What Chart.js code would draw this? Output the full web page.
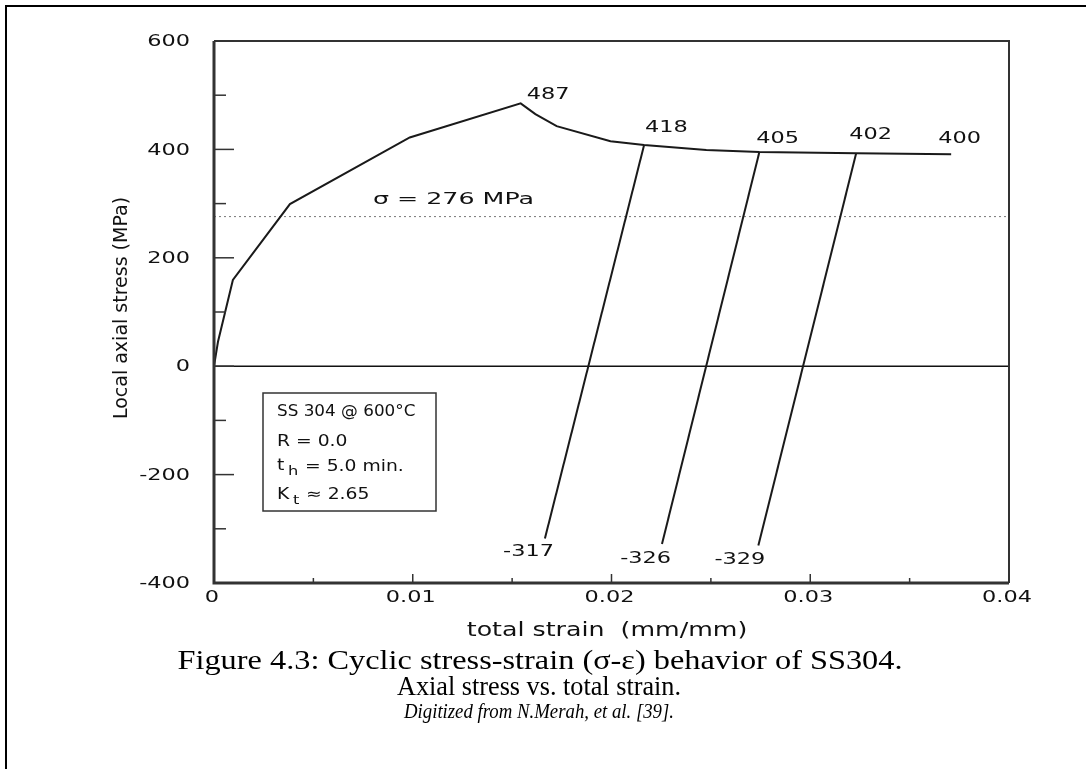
<!DOCTYPE html>
<html>
<head>
<meta charset="utf-8">
<script src="https://cdn.jsdelivr.net/npm/chart.js@4.4.0/dist/chart.umd.min.js"></script>
<style>
  html, body { margin: 0; padding: 0; background: #fff; }
</style>
</head>
<body>
<canvas id="stressStrain" width="1086" height="769"></canvas>
<script>
// monotonic loading curve
const loadStrain = [0, 0.0002, 0.00095, 0.00382, 0.00985, 0.01543, 0.01617, 0.01724, 0.01995, 0.02164, 0.02477, 0.02744, 0.03231, 0.03709];
const loadStress = [0, 45, 159, 299, 422, 485, 465, 443, 415, 408, 399, 395, 393, 391];

// unloading branches (start on the curve, end at the compressive minimum)
const unloadTopStrain = [0.02164, 0.02744, 0.03231];
const unloadTopStress = [408, 395, 393];
const unloadEndStrain = [0.01665, 0.02254, 0.02739];
const unloadEndStress = [-318, -328, -331];

const peakLabels = ['487', '418', '405', '402', '400'];
const peakIndex = [5, 9, 11, 12, 13];
const valleyLabels = ['-317', '-326', '-329'];

const refStress = 276;
const xTickLabels = ['0', '0.01', '0.02', '0.03', '0.04'];

const SANS = '"DejaVu Sans", sans-serif';
const SERIF = '"Liberation Serif", "Times New Roman", serif';

function stretchText(c, text, x, y, align, sx) {
    c.save();
    c.translate(x, y);
    c.scale(sx, 1);
    c.textAlign = align;
    c.textBaseline = 'middle';
    c.fillText(text, 0, 0);
    c.restore();
}

// stretch/squeeze text so it spans exactly w pixels
function fitText(c, text, x, y, align, w) {
    stretchText(c, text, x, y, align, w / c.measureText(text).width);
}

let datasets = [{
    data: loadStrain.map((x, i) => ({ x: x, y: loadStress[i] })),
    borderColor: '#1a1a1a',
    borderWidth: 2
}];
for (let i = 0; i < unloadTopStrain.length; i++) {
    datasets.push({
        data: [{ x: unloadTopStrain[i], y: unloadTopStress[i] }, { x: unloadEndStrain[i], y: unloadEndStress[i] }],
        borderColor: '#1a1a1a',
        borderWidth: 2
    });
}
datasets.push({
    data: [{ x: 0, y: 0 }, { x: 0.04, y: 0 }],
    borderColor: '#111',
    borderWidth: 1.5
});
datasets.push({
    data: [{ x: 0, y: refStress }, { x: 0.04, y: refStress }],
    borderColor: '#777',
    borderWidth: 1,
    borderDash: [2, 3]
});

const decorations = {
    id: 'decorations',
    afterDraw(chart) {
        const c = chart.ctx;
        const a = chart.chartArea;
        const xs = chart.scales.x, ys = chart.scales.y;
        c.save();

        // page frame
        c.strokeStyle = '#000';
        c.lineWidth = 2;
        c.beginPath();
        c.moveTo(6, 769); c.lineTo(6, 6); c.lineTo(1086, 6);
        c.stroke();

        // plot frame
        c.strokeStyle = '#333';
        c.lineWidth = 2;
        c.beginPath();
        c.moveTo(a.left, a.top); c.lineTo(a.right, a.top); c.lineTo(a.right, a.bottom);
        c.stroke();
        c.lineWidth = 3;
        c.beginPath();
        c.moveTo(a.left, a.top); c.lineTo(a.left, a.bottom); c.lineTo(a.right, a.bottom);
        c.stroke();

        // inward ticks + labels
        c.fillStyle = '#111';
        c.font = '16px ' + SANS;
        c.lineWidth = 1.5;
        ys.ticks.forEach(t => {
            const py = ys.getPixelForValue(t.value);
            const major = Math.abs(t.value % 200) < 1e-6;
            c.beginPath();
            c.moveTo(a.left, py); c.lineTo(a.left + (major ? 20 : 12), py);
            c.stroke();
            if (major) stretchText(c, String(t.value), 190, py + 1, 'right', 1.4);
        });
        xs.ticks.forEach(t => {
            const px = xs.getPixelForValue(t.value);
            const k = t.value / 0.01;
            const major = Math.abs(k - Math.round(k)) < 1e-6;
            c.beginPath();
            c.moveTo(px, a.bottom); c.lineTo(px, a.bottom - (major ? 9 : 5));
            c.stroke();
            if (major) stretchText(c, xTickLabels[Math.round(k)], px - 2, 598, 'center', 1.4);
        });

        // value labels on curve
        peakLabels.forEach((lab, i) => {
            const j = peakIndex[i];
            const px = xs.getPixelForValue(loadStrain[j]);
            const py = ys.getPixelForValue(loadStress[j]);
            const off = [[6, -8], [1, -17], [-3, -13], [-7, -18], [-13, -15]][i];
            stretchText(c, lab, px + off[0], py + off[1], 'left', 1.4);
        });
        valleyLabels.forEach((lab, i) => {
            const px = xs.getPixelForValue(unloadEndStrain[i]);
            const py = ys.getPixelForValue(unloadEndStress[i]);
            const off = [[9, 13], [9, 15], [7, 14]][i];
            stretchText(c, lab, px + off[0], py + off[1], 'right', 1.4);
        });

        // reference stress label
        fitText(c, '\u03C3 = ' + refStress + ' MPa', 373, 200, 'left', 161);

        // info box
        c.strokeStyle = '#333';
        c.lineWidth = 1.5;
        c.strokeRect(263, 393, 173, 118);
        c.font = '15px ' + SANS;
        stretchText(c, 'SS 304 @ 600\u00B0C', 277, 412, 'left', 1.12);
        stretchText(c, 'R = 0.0', 277, 442, 'left', 1.25);
        stretchText(c, 't', 277, 466, 'left', 1.25);
        c.font = '13px ' + SANS;
        stretchText(c, 'h', 288, 472, 'left', 1.25);
        c.font = '15px ' + SANS;
        stretchText(c, '= 5.0 min.', 305, 467, 'left', 1.25);
        stretchText(c, 'K', 277, 495, 'left', 1.25);
        c.font = '13px ' + SANS;
        stretchText(c, 't', 293, 501, 'left', 1.25);
        c.font = '15px ' + SANS;
        stretchText(c, '\u2248 2.65', 306, 495, 'left', 1.25);

        // caption
        c.fillStyle = '#000';
        c.font = '28px ' + SERIF;
        fitText(c, 'Figure 4.3: Cyclic stress-strain (\u03C3-\u03B5) behavior of SS304.', 540, 662, 'center', 725);
        fitText(c, 'Axial stress vs. total strain.', 539, 688, 'center', 284);
        c.font = 'italic 20px ' + SERIF;
        fitText(c, 'Digitized from N.Merah, et al. [39].', 539, 713, 'center', 270);

        // axis titles
        c.fillStyle = '#111';
        c.font = '19px ' + SANS;
        c.save();
        c.translate(122, 308);
        c.rotate(-Math.PI / 2);
        c.textAlign = 'center';
        c.textBaseline = 'middle';
        c.fillText('Local axial stress (MPa)', 0, 0, 261);
        c.restore();
        c.font = '19px ' + SANS;
        stretchText(c, 'total strain  (mm/mm)', 607, 631, 'center', 1.33);
        c.restore();
    }
};

new Chart(document.getElementById('stressStrain').getContext('2d'), {
    type: 'line',
    data: { datasets: datasets },
    options: {
        responsive: false,
        animation: false,
        devicePixelRatio: 1,
        layout: { padding: { left: 214, right: 77, top: 41, bottom: 186 } },
        elements: { point: { radius: 0 }, line: { tension: 0 } },
        plugins: { legend: { display: false }, tooltip: { enabled: false } },
        scales: {
            x: {
                type: 'linear', min: 0, max: 0.04,
                ticks: { display: false, stepSize: 0.005 },
                grid: { display: false }, border: { display: false },
                afterFit: s => { s.height = 0; }
            },
            y: {
                type: 'linear', min: -400, max: 600,
                ticks: { display: false, stepSize: 100 },
                grid: { display: false }, border: { display: false },
                afterFit: s => { s.width = 0; }
            }
        }
    },
    plugins: [decorations]
});
</script>
</body>
</html>
